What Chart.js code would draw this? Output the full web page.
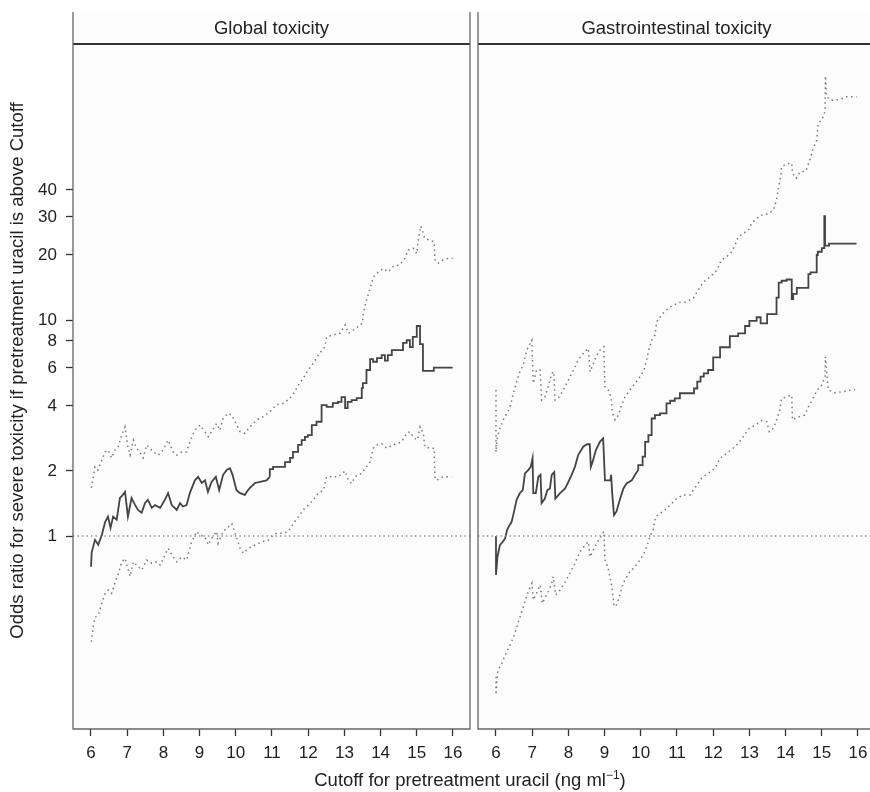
<!DOCTYPE html>
<html>
<head>
<meta charset="utf-8">
<script src="https://cdn.jsdelivr.net/npm/chart.js@4.4.1/dist/chart.umd.min.js"></script>
<style>
  body { margin: 0; width: 870px; height: 792px; overflow: hidden; position: relative; background: #fff;
         font-family: "Liberation Sans", Arial, sans-serif; }
  #cvGlobal { position: absolute; left: 0; top: 0; }
  #cvGI { position: absolute; left: 470px; top: 0; }
  #xtitle { position: absolute; left: 270px; width: 400px; top: 769px; line-height: 21px;
            text-align: center; font-size: 18.5px; color: #222; }
  #xtitle sup { font-size: 12px; line-height: 0; }
</style>
</head>
<body>
<canvas id="cvGlobal" width="472" height="792"></canvas>
<canvas id="cvGI" width="410" height="792"></canvas>
<div id="xtitle">Cutoff for pretreatment uracil (ng ml<sup>−1</sup>)</div>
<script>
// axis ticks
var xTicks = [6, 7, 8, 9, 10, 11, 12, 13, 14, 15, 16];
var yTicks = [1, 2, 4, 6, 8, 10, 20, 30, 40];
var xRange = [5.503, 16.47];
var yRange = [0.1278, 266.7];
var refLineY = 1;

// Global toxicity : odds ratio [cutoff, OR], jagged start then clear staircase
var globalORjag = [[6.00,0.72],[6.02,0.84],[6.11,0.96],[6.20,0.91],[6.30,1.01],[6.39,1.16],[6.47,1.23],[6.54,1.09],
  [6.61,1.23],[6.71,1.19],[6.80,1.50],[6.88,1.55],[6.94,1.60],[7.02,1.23],[7.12,1.50],[7.22,1.39],[7.30,1.32],
  [7.40,1.28],[7.49,1.42],[7.57,1.47],[7.68,1.35],[7.77,1.39],[7.91,1.35],[8.04,1.47],[8.13,1.58],[8.23,1.39],
  [8.37,1.32],[8.46,1.42],[8.54,1.37],[8.64,1.39],[8.73,1.58],[8.87,1.81],[8.96,1.88],[9.06,1.76],[9.15,1.81],
  [9.23,1.60],[9.33,1.78],[9.45,1.88],[9.54,1.63],[9.65,1.92],[9.75,2.02],[9.84,2.06],[9.91,1.92],[10.02,1.63],
  [10.12,1.58],[10.25,1.55],[10.30,1.60],[10.39,1.67],[10.53,1.76],[10.67,1.78],[10.85,1.81],[10.94,1.88]];
var globalORstep = [[10.94,1.88],
  [11.03,2.04],[11.36,2.09],[11.50,2.20],[11.58,2.30],[11.72,2.45],[11.82,2.64],[11.91,2.78],[11.99,2.88],
  [12.10,2.93],[12.23,3.26],[12.37,3.38],[12.51,4.04],[12.68,3.96],[12.82,4.12],[12.92,4.18],[13.02,4.40],
  [13.09,3.91],[13.20,4.18],[13.34,4.26],[13.48,4.35],[13.51,4.84],[13.61,5.10],[13.71,5.87],[13.79,6.59],
  [13.90,6.41],[14.03,6.66],[14.12,6.88],[14.20,6.48],[14.31,6.88],[14.62,7.25],[14.72,7.84],[14.81,8.06],
  [14.89,7.49],[15.00,8.35],[15.09,9.38],[15.17,7.74],[15.47,5.81],[15.69,6.02],[15.99,6.02]];
var globalUpper = [[6.01,1.67],[6.06,1.86],[6.11,2.09],[6.19,2.02],[6.30,2.25],[6.39,2.45],[6.47,2.50],[6.57,2.30],
  [6.66,2.50],[6.75,2.59],[6.85,2.93],[6.94,3.20],[7.02,2.59],[7.08,2.37],[7.17,2.78],[7.26,2.55],[7.35,2.45],
  [7.44,2.30],[7.54,2.64],[7.63,2.55],[7.72,2.45],[7.86,2.37],[7.99,2.50],[8.13,2.78],[8.27,2.45],[8.37,2.37],
  [8.51,2.45],[8.64,2.45],[8.73,2.73],[8.87,3.09],[9.01,3.26],[9.15,3.04],[9.24,2.88],[9.33,3.04],[9.47,3.32],
  [9.56,3.09],[9.65,3.50],[9.79,3.70],[9.89,3.63],[9.98,3.38],[10.12,3.04],[10.25,2.99],[10.39,3.20],
  [10.58,3.45],[10.76,3.57],[10.94,3.76],[11.13,4.06],[11.31,4.11],[11.50,4.34],[11.63,4.66],[11.73,5.00],
  [11.86,5.37],[12.00,5.87],[12.14,6.30],[12.28,6.88],[12.46,7.52],[12.51,8.37],[12.69,8.53],[12.88,8.68],
  [13.02,9.49],[13.11,8.68],[13.25,8.99],[13.38,9.33],[13.50,9.68],[13.52,10.72],[13.61,12.4],[13.71,14.0],
  [13.80,15.8],[13.94,16.7],[14.07,17.3],[14.21,16.7],[14.35,17.7],[14.53,18.0],[14.67,19.3],[14.76,21.1],
  [14.90,21.5],[15.00,20.3],[15.04,23.4],[15.11,27.2],[15.18,25.2],[15.22,23.9],[15.36,23.4],[15.48,23.0],
  [15.50,19.0],[15.59,18.3],[15.73,19.0],[15.87,19.3],[15.99,19.3]];
var globalLower = [[6.01,0.324],[6.06,0.38],[6.11,0.42],[6.20,0.43],[6.30,0.488],[6.39,0.543],[6.48,0.562],
  [6.57,0.543],[6.66,0.604],[6.76,0.672],[6.85,0.76],[6.94,0.788],[7.03,0.696],[7.08,0.65],[7.17,0.76],
  [7.26,0.734],[7.40,0.696],[7.54,0.774],[7.68,0.747],[7.82,0.76],[7.91,0.734],[8.00,0.788],[8.13,0.877],
  [8.27,0.80],[8.37,0.76],[8.51,0.80],[8.64,0.774],[8.78,0.94],[8.92,1.05],[9.01,1.01],[9.15,0.99],[9.24,0.91],
  [9.33,0.975],[9.47,1.05],[9.51,0.925],[9.65,1.05],[9.79,1.10],[9.89,1.14],[9.98,1.03],[10.12,0.877],
  [10.21,0.832],[10.35,0.877],[10.53,0.908],[10.72,0.94],[10.90,0.958],[11.04,1.01],[11.13,1.03],[11.31,1.03],
  [11.45,1.05],[11.59,1.14],[11.73,1.23],[11.86,1.32],[12.00,1.39],[12.14,1.47],[12.28,1.58],[12.42,1.63],
  [12.51,1.88],[12.65,1.88],[12.83,1.88],[13.02,2.00],[13.11,1.81],[13.20,1.75],[13.29,1.88],[13.48,1.95],
  [13.61,2.09],[13.71,2.21],[13.80,2.55],[13.89,2.64],[14.03,2.68],[14.17,2.55],[14.35,2.64],[14.58,2.73],
  [14.72,2.99],[14.81,3.04],[14.90,2.88],[15.00,2.78],[15.04,2.88],[15.09,3.20],[15.18,2.99],[15.22,2.59],
  [15.36,2.55],[15.48,2.55],[15.50,1.88],[15.54,1.81],[15.73,1.88],[15.96,1.88]];

// Gastrointestinal toxicity
var giORjag = [[6.00,1.00],[6.00,0.66],[6.04,0.80],[6.11,0.91],[6.19,0.94],[6.25,0.975],[6.31,1.07],[6.37,1.12],
  [6.43,1.16],[6.50,1.30],[6.57,1.47],[6.66,1.58],[6.74,1.63],[6.80,1.95],[6.89,2.02],[6.96,2.09],[7.01,2.29],
  [7.03,1.58],[7.10,1.58],[7.17,1.88],[7.23,1.92],[7.26,1.42],[7.35,1.49],[7.42,1.63],[7.49,1.66],[7.54,1.92],
  [7.61,1.98],[7.64,1.49],[7.77,1.58],[7.91,1.66],[8.00,1.78],[8.09,1.92],[8.18,2.09],[8.27,2.37],[8.41,2.59],
  [8.51,2.66],[8.59,2.66],[8.62,2.09],[8.67,2.21],[8.76,2.50],[8.87,2.73],[8.96,2.83],[9.01,1.81],[9.16,1.81],
  [9.18,1.92],[9.21,1.58],[9.26,1.25],[9.33,1.30],[9.42,1.47],[9.52,1.66],[9.61,1.75],[9.75,1.81],[9.84,1.92],
  [9.93,2.02]];
var giORstep = [[9.93,2.02],[10.05,2.13],[10.12,2.33],
  [10.21,2.73],[10.30,2.93],[10.39,3.50],[10.53,3.63],[10.71,3.70],[10.81,4.11],[10.94,4.23],[11.08,4.34],
  [11.47,4.58],[11.56,4.82],[11.65,5.18],[11.74,5.47],[11.86,5.66],[12.00,5.87],[12.19,6.71],[12.46,7.48],
  [12.69,8.42],[12.88,8.68],[13.00,9.38],[13.20,9.90],[13.31,10.3],[13.49,9.64],[13.75,10.65],[13.81,12.7],
  [13.89,14.9],[14.03,15.2],[14.17,15.4],[14.21,12.5],[14.31,13.2],[14.63,14.1],[14.69,16.3],[14.86,16.6],
  [14.89,20.0],[15.00,20.7],[15.07,21.5],[15.09,30.3],[15.20,22.1],[15.69,22.6],[15.96,22.6]];
var giUpper = [[6.00,4.74],[6.00,2.45],[6.02,2.78],[6.11,3.15],[6.20,3.45],[6.30,3.70],[6.39,3.96],[6.48,4.58],
  [6.57,5.18],[6.66,5.76],[6.75,6.19],[6.85,7.25],[6.99,8.06],[7.01,6.30],[7.03,5.09],[7.12,5.87],[7.22,5.87],
  [7.26,4.26],[7.35,4.40],[7.44,4.91],[7.54,5.66],[7.60,5.76],[7.63,4.26],[7.72,4.34],[7.86,4.74],[8.00,5.27],
  [8.14,5.87],[8.27,6.53],[8.41,7.00],[8.55,7.39],[8.60,5.76],[8.69,6.30],[8.78,6.88],[8.87,7.25],[8.98,7.52],
  [9.01,4.91],[9.10,4.74],[9.18,4.40],[9.22,3.70],[9.29,3.45],[9.38,3.63],[9.47,4.04],[9.56,4.40],[9.70,4.74],
  [9.84,5.09],[9.98,5.47],[10.09,5.87],[10.16,6.53],[10.23,7.39],[10.30,8.06],[10.39,8.53],[10.44,9.82],
  [10.60,10.7],[10.81,11.5],[11.08,12.1],[11.22,12.1],[11.45,12.6],[11.59,13.8],[11.73,15.0],[11.91,15.8],
  [12.10,17.0],[12.23,19.0],[12.37,19.6],[12.51,20.7],[12.60,22.2],[12.69,24.2],[12.83,25.2],[12.97,26.0],
  [13.06,28.0],[13.20,29.5],[13.34,30.6],[13.52,31.0],[13.66,32.3],[13.75,36.0],[13.80,40.7],[13.87,46.9],
  [13.89,51.3],[14.03,52.8],[14.17,53.2],[14.19,47.8],[14.29,45.3],[14.40,48.5],[14.56,48.9],[14.67,55.0],
  [14.76,62.3],[14.86,68.0],[14.90,81.3],[15.00,84.3],[15.09,92.4],[15.10,135],[15.13,108],[15.27,104],
  [15.50,105],[15.69,108],[15.87,108],[15.96,108]];
var giLower = [[6.00,0.223],[6.00,0.184],[6.04,0.232],[6.06,0.24],[6.16,0.257],[6.25,0.28],[6.34,0.302],
  [6.43,0.324],[6.52,0.354],[6.62,0.401],[6.71,0.446],[6.80,0.497],[6.89,0.552],[6.99,0.604],[7.03,0.506],
  [7.12,0.543],[7.22,0.593],[7.28,0.488],[7.35,0.515],[7.44,0.552],[7.54,0.604],[7.58,0.648],[7.65,0.534],
  [7.77,0.562],[7.91,0.614],[8.04,0.672],[8.18,0.747],[8.32,0.846],[8.46,0.908],[8.55,0.94],[8.60,0.80],
  [8.69,0.861],[8.78,0.925],[8.89,0.99],[8.98,1.05],[9.01,0.774],[9.10,0.708],[9.20,0.582],[9.26,0.48],
  [9.31,0.471],[9.38,0.506],[9.47,0.573],[9.56,0.626],[9.70,0.684],[9.84,0.721],[9.98,0.774],[10.09,0.832],
  [10.18,0.908],[10.25,0.99],[10.34,1.07],[10.41,1.23],[10.53,1.27],[10.67,1.32],[10.81,1.39],[10.99,1.49],
  [11.17,1.55],[11.36,1.55],[11.68,1.85],[11.86,1.95],[12.05,2.06],[12.19,2.29],[12.37,2.41],[12.55,2.55],
  [12.69,2.68],[12.83,2.88],[12.97,3.12],[13.15,3.26],[13.34,3.42],[13.48,3.38],[13.55,3.04],[13.66,3.15],
  [13.75,3.45],[13.84,3.83],[13.89,4.34],[14.03,4.41],[14.17,4.49],[14.19,3.45],[14.31,3.54],[14.53,3.63],
  [14.63,3.96],[14.76,4.34],[14.87,4.74],[15.00,5.00],[15.09,5.47],[15.10,6.76],[15.18,4.74],[15.36,4.61],
  [15.59,4.66],[15.92,4.77]];

var FONT = '"Liberation Sans", Arial, sans-serif';
Chart.defaults.font.family = FONT;
Chart.defaults.font.size = 17;
Chart.defaults.color = '#222';

function pts(arr) {
  return arr.map(function (p) { return { x: p[0], y: p[1] }; });
}

// plot background, strip with panel title and the open frame
var panelPlugin = {
  id: 'panel',
  beforeDraw: function (chart) {
    var ctx = chart.ctx, a = chart.chartArea;
    ctx.save();
    ctx.fillStyle = '#fcfcfc';
    ctx.fillRect(a.left, a.top, a.right - a.left, a.bottom - a.top);
    ctx.restore();
  },
  afterDraw: function (chart, args, opts) {
    var ctx = chart.ctx, a = chart.chartArea;
    ctx.save();
    ctx.strokeStyle = '#333';
    ctx.lineWidth = 2;
    ctx.beginPath();
    ctx.moveTo(a.left, 44);
    ctx.lineTo(a.right, 44);
    ctx.stroke();
    ctx.fillStyle = '#222';
    ctx.font = '18.5px ' + FONT;
    ctx.textAlign = 'center';
    ctx.textBaseline = 'middle';
    ctx.fillText(opts.title, (a.left + a.right) / 2, 29);
    ctx.strokeStyle = '#666';
    ctx.lineWidth = 1.3;
    ctx.beginPath();
    ctx.moveTo(a.left, a.top);
    ctx.lineTo(a.left, a.bottom);
    ctx.lineTo(a.right, a.bottom);
    ctx.lineTo(a.right, a.top);
    ctx.stroke();
    ctx.restore();
  }
};

function datasets(orJag, orStep, upper, lower) {
  var ciStyle = { borderColor: '#7a7a7a', borderWidth: 1.5, borderDash: [1.5, 3.5], pointRadius: 0 };
  var orStyle = { borderColor: '#444', borderWidth: 1.8, pointRadius: 0 };
  return [
    {
      label: 'OR = 1',
      data: [{ x: xRange[0], y: refLineY }, { x: xRange[1], y: refLineY }],
      borderColor: '#888', borderWidth: 1.3, borderDash: [1.3, 3.2], pointRadius: 0
    },
    Object.assign({ label: 'upper', data: pts(upper) }, ciStyle),
    Object.assign({ label: 'lower', data: pts(lower) }, ciStyle),
    Object.assign({ label: 'odds ratio', data: pts(orJag) }, orStyle),
    Object.assign({ label: 'odds ratio (steps)', data: pts(orStep), stepped: 'after' }, orStyle)
  ];
}

function xScale() {
  return {
    type: 'linear',
    min: xRange[0], max: xRange[1],
    afterBuildTicks: function (s) { s.ticks = xTicks.map(function (v) { return { value: v }; }); },
    afterFit: function (s) { s.height = 63; s.paddingLeft = 0; s.paddingRight = 0; },
    ticks: { padding: 7, color: '#222', callback: function (v) { return String(v); } },
    grid: { drawOnChartArea: false, drawTicks: true, tickLength: 7, tickWidth: 1.3, tickColor: '#333' },
    border: { display: false }
  };
}

function yScale(show) {
  return {
    type: 'logarithmic',
    display: show,
    min: yRange[0], max: yRange[1],
    afterBuildTicks: function (s) { s.ticks = yTicks.map(function (v) { return { value: v }; }); },
    afterFit: function (s) {
      if (show) { s.width = 73; }
      s.paddingTop = 0; s.paddingBottom = 0;
    },
    ticks: { padding: 9, color: '#222', callback: function (v) { return String(v); } },
    grid: { drawOnChartArea: false, drawTicks: true, tickLength: 7, tickWidth: 1.3, tickColor: '#333' },
    border: { display: false },
    title: {
      display: show,
      text: 'Odds ratio for severe toxicity if pretreatment uracil is above Cutoff',
      color: '#222',
      font: { size: 18.5 },
      padding: { top: 7, bottom: 0 }
    }
  };
}

var ctxGlobal = document.getElementById('cvGlobal').getContext('2d');
var chartGlobal = new Chart(ctxGlobal, {
  type: 'line',
  data: { datasets: datasets(globalORjag, globalORstep, globalUpper, globalLower) },
  options: {
    responsive: false,
    animation: false,
    devicePixelRatio: 1,
    layout: { padding: { top: 12, right: 2, left: 0, bottom: 0 } },
    scales: { x: xScale(), y: yScale(true) },
    plugins: { legend: { display: false }, tooltip: { enabled: false }, panel: { title: 'Global toxicity' } }
  },
  plugins: [panelPlugin]
});

var ctxGI = document.getElementById('cvGI').getContext('2d');
var chartGI = new Chart(ctxGI, {
  type: 'line',
  data: { datasets: datasets(giORjag, giORstep, giUpper, giLower) },
  options: {
    responsive: false,
    animation: false,
    devicePixelRatio: 1,
    layout: { padding: { top: 12, right: 5, left: 8, bottom: 0 } },
    scales: { x: xScale(), y: yScale(false) },
    plugins: { legend: { display: false }, tooltip: { enabled: false }, panel: { title: 'Gastrointestinal toxicity' } }
  },
  plugins: [panelPlugin]
});
</script>
</body>
</html>
